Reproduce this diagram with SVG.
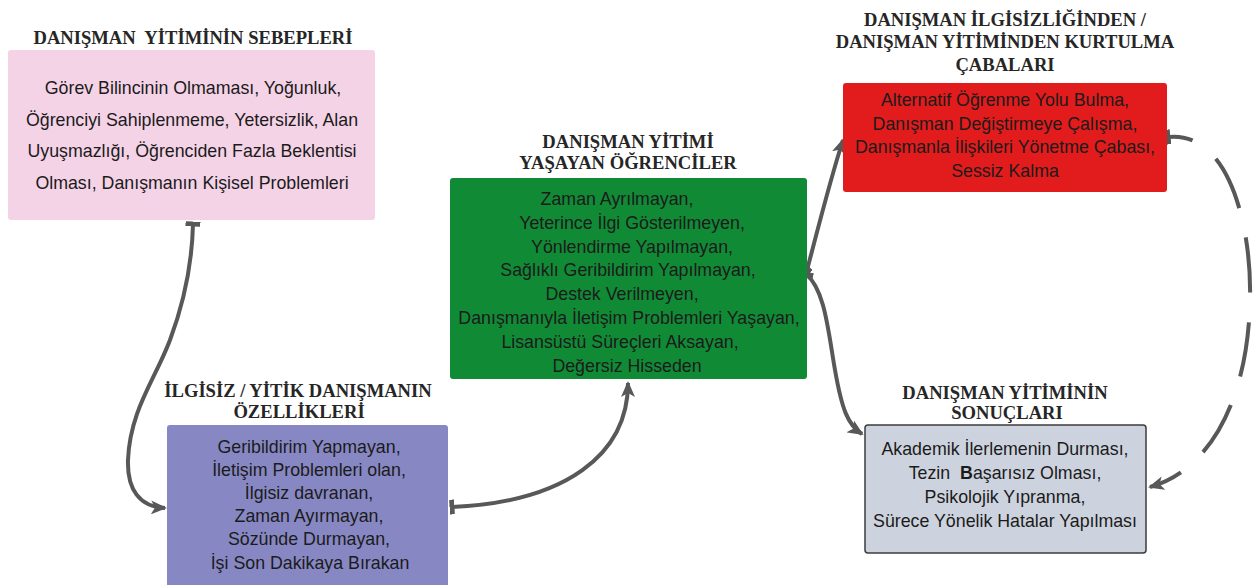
<svg xmlns="http://www.w3.org/2000/svg" width="1255" height="585" viewBox="0 0 1255 585">
<style>
.title{font-family:"Liberation Serif","Times New Roman",serif;font-weight:bold;font-size:18.6px;fill:#262626;text-anchor:middle;white-space:pre}
.body{font-family:"Liberation Sans",Arial,sans-serif;font-size:17.8px;fill:#1b1b1b;text-anchor:middle;white-space:pre}
.conn{fill:none;stroke:#585858;stroke-width:4}
.dash{stroke-dasharray:55 30;stroke-dashoffset:30}
</style>
<defs>
<marker id="arrow" markerUnits="userSpaceOnUse" viewBox="0 0 16 14" refX="14" refY="7" markerWidth="16" markerHeight="14" orient="auto">
<path d="M0,0 L16,7 L0,14 L4,7 z" fill="#585858"/>
</marker>
<marker id="tee" markerUnits="userSpaceOnUse" viewBox="0 0 5 15" refX="2.5" refY="7.5" markerWidth="5" markerHeight="15" orient="auto">
<rect x="0" y="0" width="5" height="15" fill="#585858"/>
</marker>
</defs>
<rect width="1255" height="585" fill="#ffffff"/>

<g id="connectors">
<path class="conn" d="M193,224 C192,265 185,300 170,340 S130,410 128,460 C127,490 140,507 165,508" marker-start="url(#tee)" marker-end="url(#arrow)"/>
<path class="conn" d="M452,507 C565,502 628,455 628,383" marker-start="url(#tee)" marker-end="url(#arrow)"/>
<path class="conn" d="M806,274 C815,240 830,180 843,140" marker-start="url(#tee)" marker-end="url(#arrow)"/>
<path class="conn" d="M806,274 C825,290 828,330 835,370 C842,410 848,425 862,434" marker-start="url(#tee)" marker-end="url(#arrow)"/>
<path class="conn dash" d="M1168,137 C1230,130 1252,230 1250,300 C1248,400 1210,470 1150,487" marker-start="url(#tee)" marker-end="url(#arrow)"/>
</g>

<g id="node-sebepler">
<text class="title" x="193" y="44">DANIŞMAN  YİTİMİNİN SEBEPLERİ</text>
<rect x="8" y="50" width="367" height="170" rx="3" fill="#f5d3e7"/>
<text class="body" x="193" y="94">Görev Bilincinin Olmaması, Yoğunluk,</text>
<text class="body" x="192" y="125.5">Öğrenciyi Sahiplenmeme, Yetersizlik, Alan</text>
<text class="body" x="192" y="157">Uyuşmazlığı, Öğrenciden Fazla Beklentisi</text>
<text class="body" x="192" y="188.5">Olması, Danışmanın Kişisel Problemleri</text>
</g>

<g id="node-ogrenciler">
<text class="title" x="628" y="148">DANIŞMAN YİTİMİ</text>
<text class="title" x="628" y="169">YAŞAYAN ÖĞRENCİLER</text>
<rect x="450" y="178" width="357" height="201" rx="3" fill="#118a36"/>
<text class="body" x="617" y="205">Zaman Ayrılmayan,</text>
<text class="body" x="632" y="229">Yeterince İlgi Gösterilmeyen,</text>
<text class="body" x="632" y="253">Yönlendirme Yapılmayan,</text>
<text class="body" x="628" y="276">Sağlıklı Geribildirim Yapılmayan,</text>
<text class="body" x="622" y="300">Destek Verilmeyen,</text>
<text class="body" x="629" y="324">Danışmanıyla İletişim Problemleri Yaşayan,</text>
<text class="body" x="620" y="348">Lisansüstü Süreçleri Aksayan,</text>
<text class="body" x="627" y="372">Değersiz Hisseden</text>
</g>

<g id="node-cabalar">
<text class="title" x="1005" y="26">DANIŞMAN İLGİSİZLİĞİNDEN /</text>
<text class="title" x="1005" y="48">DANIŞMAN YİTİMİNDEN KURTULMA</text>
<text class="title" x="1005" y="71">ÇABALARI</text>
<rect x="843" y="83" width="324" height="109" rx="3" fill="#e21c1c"/>
<text class="body" x="1005" y="106">Alternatif Öğrenme Yolu Bulma,</text>
<text class="body" x="1005" y="129.5">Danışman Değiştirmeye Çalışma,</text>
<text class="body" x="1005" y="153">Danışmanla İlişkileri Yönetme Çabası,</text>
<text class="body" x="1005" y="177">Sessiz Kalma</text>
</g>

<g id="node-ozellikler">
<text class="title" x="298" y="397">İLGİSİZ / YİTİK DANIŞMANIN</text>
<text class="title" x="299" y="418">ÖZELLİKLERİ</text>
<rect x="167" y="425" width="281" height="170" rx="3" fill="#8788c3"/>
<text class="body" x="309" y="453">Geribildirim Yapmayan,</text>
<text class="body" x="309" y="476">İletişim Problemleri olan,</text>
<text class="body" x="309" y="499">İlgisiz davranan,</text>
<text class="body" x="309" y="522">Zaman Ayırmayan,</text>
<text class="body" x="309" y="545">Sözünde Durmayan,</text>
<text class="body" x="310" y="569">İşi Son Dakikaya Bırakan</text>
</g>

<g id="node-sonuclar">
<text class="title" x="1005" y="399">DANIŞMAN YİTİMİNİN</text>
<text class="title" x="1007" y="419">SONUÇLARI</text>
<rect x="865" y="425" width="281" height="128" rx="3" fill="#cdd3de" stroke="#3c3c3c" stroke-width="1.5"/>
<text class="body" x="1005" y="455">Akademik İlerlemenin Durması,</text>
<text class="body" x="1005" y="478.5">Tezin  <tspan font-weight="bold">B</tspan>aşarısız Olması,</text>
<text class="body" x="1005" y="502.5">Psikolojik Yıpranma,</text>
<text class="body" x="1005" y="527">Sürece Yönelik Hatalar Yapılması</text>
</g>
</svg>
